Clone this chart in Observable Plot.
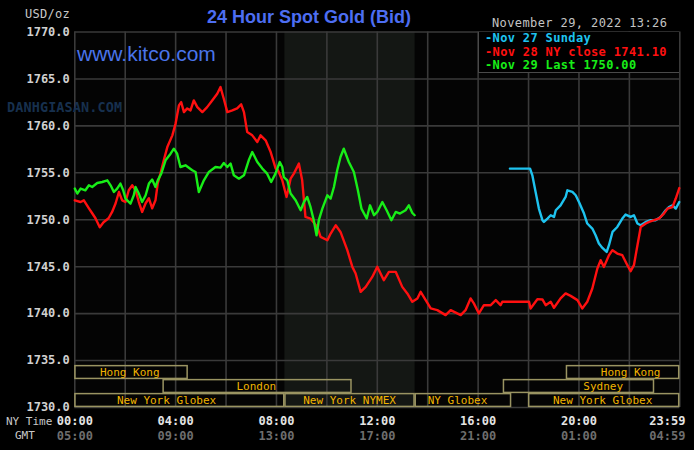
<!DOCTYPE html>
<html><head><meta charset="utf-8">
<script src="https://cdn.jsdelivr.net/npm/d3@7"></script>
<script src="https://cdn.jsdelivr.net/npm/@observablehq/plot@0.6"></script>
<style>
html,body{margin:0;padding:0;background:#000;}
#wrap{position:relative;width:694px;height:450px;overflow:hidden;background:#000;}
.abs{position:absolute;white-space:nowrap;line-height:1;}
.mono{font-family:"DejaVu Sans Mono",monospace;}
</style></head><body><div id="wrap"></div>
<script>
// ---------- data ----------
const titleText = "24 Hour Spot Gold (Bid)";
const siteText = "www.kitco.com";
const stampText = "November 29, 2022 13:26";
const unitText = "USD/oz";

// [NY time in hours, price]
const nov28 = [[0,1752.07],[0.23,1751.89],[0.36,1752.07],[0.56,1751.22],[0.69,1750.69],[0.82,1750.16],[0.99,1749.2],[1.14,1749.73],[1.34,1750.16],[1.48,1750.83],[1.62,1751.76],[1.75,1752.96],[1.88,1752.07],[2.01,1751.89],[2.14,1753.14],[2.28,1753.67],[2.41,1753.14],[2.54,1751.89],[2.67,1750.83],[2.81,1751.76],[2.94,1752.29],[3.07,1751.22],[3.2,1752.07],[3.29,1753.88],[3.4,1754.95],[3.53,1756.33],[3.67,1757.74],[3.87,1758.99],[4.0,1760.27],[4.13,1762.18],[4.22,1762.53],[4.33,1761.47],[4.46,1761.86],[4.59,1761.65],[4.72,1762.71],[4.86,1762.0],[5.06,1761.47],[5.25,1762.0],[5.45,1762.71],[5.65,1763.43],[5.78,1764.13],[5.91,1762.89],[6.05,1761.47],[6.25,1761.65],[6.44,1761.86],[6.6,1762.29],[6.71,1761.47],[6.84,1759.34],[7.04,1758.99],[7.24,1758.28],[7.37,1758.99],[7.57,1758.46],[7.77,1757.21],[7.97,1755.45],[8.06,1755.27],[8.23,1754.2],[8.4,1752.43],[8.49,1753.49],[8.56,1754.38],[8.69,1754.91],[8.89,1755.98],[9.02,1754.2],[9.15,1750.3],[9.35,1750.13],[9.62,1749.23],[9.75,1748.17],[10.02,1747.82],[10.15,1748.53],[10.35,1749.41],[10.54,1748.7],[10.81,1746.76],[11.01,1744.98],[11.14,1744.28],[11.34,1742.32],[11.54,1742.85],[11.8,1743.91],[12.0,1744.98],[12.26,1743.56],[12.46,1744.45],[12.73,1744.45],[12.99,1742.85],[13.19,1742.15],[13.39,1741.26],[13.59,1741.62],[13.72,1742.32],[13.92,1741.44],[14.12,1740.55],[14.38,1740.37],[14.71,1739.84],[14.91,1740.37],[15.17,1740.02],[15.31,1739.84],[15.5,1740.37],[15.7,1741.62],[15.83,1741.09],[16.03,1740.02],[16.23,1740.9],[16.5,1740.9],[16.7,1741.44],[16.89,1740.9],[16.96,1741.26],[18.02,1741.26],[18.08,1740.55],[18.35,1741.54],[18.55,1741.51],[18.68,1740.9],[18.88,1741.26],[19.01,1740.62],[19.27,1741.62],[19.47,1742.15],[19.67,1741.89],[19.94,1741.44],[20.13,1740.55],[20.33,1741.26],[20.53,1742.68],[20.73,1744.81],[20.86,1745.69],[20.99,1744.98],[21.19,1746.22],[21.33,1746.76],[21.52,1746.4],[21.72,1746.22],[21.92,1745.16],[22.05,1744.52],[22.18,1745.16],[22.32,1747.29],[22.45,1749.23],[22.65,1749.6],[22.78,1749.77],[22.98,1749.95],[23.17,1750.13],[23.37,1750.66],[23.51,1751.19],[23.71,1751.36],[23.84,1752.26],[23.98,1753.38]];

const nov29 = [[0,1753.32],[0.1,1752.79],[0.23,1753.32],[0.42,1753.14],[0.56,1753.67],[0.69,1753.49],[0.89,1753.91],[1.09,1754.02],[1.29,1754.2],[1.42,1753.67],[1.55,1752.96],[1.68,1753.32],[1.81,1753.85],[1.92,1753.14],[2.01,1752.26],[2.21,1751.72],[2.34,1752.61],[2.41,1753.49],[2.54,1752.79],[2.67,1751.89],[2.81,1752.61],[2.94,1753.85],[3.07,1754.28],[3.2,1753.49],[3.29,1754.2],[3.43,1754.91],[3.6,1756.33],[3.8,1757.04],[3.93,1757.57],[4.06,1757.04],[4.19,1755.62],[4.39,1755.8],[4.66,1755.27],[4.79,1755.09],[4.92,1752.96],[5.12,1754.2],[5.32,1755.09],[5.58,1755.62],[5.78,1755.55],[5.91,1756.04],[6.05,1755.62],[6.18,1755.98],[6.31,1754.73],[6.51,1754.38],[6.71,1754.73],[6.9,1756.33],[7.04,1757.21],[7.24,1756.15],[7.44,1755.45],[7.63,1754.91],[7.79,1754.02],[7.96,1754.91],[8.13,1756.15],[8.23,1755.62],[8.29,1754.55],[8.43,1754.2],[8.56,1752.79],[8.76,1752.07],[8.96,1751.01],[9.09,1751.89],[9.22,1752.43],[9.35,1751.36],[9.48,1749.95],[9.59,1748.35],[9.68,1749.95],[9.82,1751.19],[10.02,1752.61],[10.15,1752.26],[10.28,1753.49],[10.41,1755.27],[10.54,1756.68],[10.67,1757.57],[10.87,1756.15],[11.07,1755.09],[11.23,1753.14],[11.37,1751.19],[11.58,1750.13],[11.71,1751.54],[11.87,1750.48],[12.0,1750.83],[12.2,1751.89],[12.37,1751.01],[12.56,1749.95],[12.73,1750.83],[12.9,1750.66],[13.12,1751.01],[13.25,1751.54],[13.39,1750.72],[13.48,1750.48]];

const nov27 = [[17.26,1755.45],[18.06,1755.45],[18.15,1754.73],[18.28,1752.96],[18.41,1751.19],[18.55,1749.95],[18.61,1749.77],[18.75,1750.13],[18.88,1750.48],[19.01,1750.3],[19.08,1751.01],[19.27,1751.54],[19.47,1752.43],[19.54,1753.14],[19.74,1752.96],[19.87,1752.61],[20.0,1751.89],[20.2,1750.66],[20.33,1749.6],[20.53,1749.06],[20.66,1748.35],[20.79,1747.47],[20.93,1747.0],[21.1,1746.57],[21.19,1747.29],[21.33,1748.7],[21.52,1749.23],[21.72,1750.13],[21.85,1750.55],[22.05,1750.3],[22.18,1750.48],[22.32,1749.6],[22.45,1749.41],[22.65,1749.77],[22.85,1749.95],[23.04,1749.95],[23.24,1750.3],[23.44,1751.01],[23.57,1751.36],[23.71,1751.54],[23.84,1751.19],[23.98,1751.89]];

const legendLabels = ["Nov 27 Sunday", "Nov 28 NY close 1741.10", "Nov 29 Last 1750.00"];
const legendColors = ["#1ec3ef", "#ff1010", "#18ee18"];

const priceTicks = [1730, 1735, 1740, 1745, 1750, 1755, 1760, 1765, 1770];
const gridHours = [0, 2, 4, 6, 8, 10, 12, 14, 16, 18, 20, 22, 24];
const timeTicks = [0, 4, 8, 12, 16, 20];
const nyLabels = ["00:00", "04:00", "08:00", "12:00", "16:00", "20:00"];
const gmtLabels = ["05:00", "09:00", "13:00", "17:00", "21:00", "01:00"];
const endTick = 24;
const endNyLabel = "23:59";
const endGmtLabel = "04:59";

const nymexWindow = [8.333, 13.5];

// trading sessions: name, row (0 = top), start/end hours, label position (hours)
const sessionNames = ["Hong Kong", "London", "New York Globex", "New York NYMEX", "NY Globex", "Sydney", "Hong Kong", "New York Globex"];
const sessionRows  = [0, 1, 2, 2, 2, 1, 0, 2];
const sessionStart = [0, 3.5, 0, 8.333, 13.5, 17.0, 19.5, 18.0];
const sessionEnd   = [4.5, 11.0, 8.333, 13.5, 17.33, 23.0, 24, 24];
const sessionLabelAt = [2.18, 7.2, 3.64, 10.9, 15.18, 20.96, 22.05, 20.94];

// ---------- build ----------
const sessions = sessionNames.map((name, i) => ({name, row: sessionRows[i], start: sessionStart[i], end: sessionEnd[i], labelAt: sessionLabelAt[i]}));
const rowH = 1.49;
const rowTop = r => 1730 + (3 - r) * rowH;
const rowBot = r => 1730 + (2 - r) * rowH;

const mono = "DejaVu Sans Mono, monospace";
const chart = Plot.plot({
  width: 694, height: 450,
  marginLeft: 74.3, marginRight: 14.7, marginTop: 31.5, marginBottom: 43,
  x: {domain: [0, 24], axis: null},
  y: {domain: [1730, 1770], axis: null},
  style: {background: "#000", fontFamily: mono, overflow: "visible"},
  marks: [
    Plot.frame({fill: "#040404", stroke: "none"}),
    Plot.rect([nymexWindow], {x1: d => d[0], x2: d => d[1], y1: () => 1730, y2: () => 1770, fill: "#141714"}),
    Plot.ruleX(gridHours, {x: d => d, stroke: "#3a3a3a", strokeWidth: 1.6}),
    Plot.ruleY(priceTicks, {y: d => d, stroke: "#3a3a3a", strokeWidth: 1.6}),
    Plot.rect(sessions, {x1: "start", x2: "end", y1: d => rowBot(d.row), y2: d => rowTop(d.row), stroke: "#9a9462", strokeWidth: 1.5, fill: "none", inset: 0.6}),
    Plot.text(sessions, {x: "labelAt", y: d => (rowTop(d.row) + rowBot(d.row)) / 2, text: "name", fill: "#f2b400", fontSize: 11, fontFamily: mono}),
    Plot.line(nov27, {x: d => d[0], y: d => d[1], stroke: legendColors[0], strokeWidth: 2.4}),
    Plot.line(nov28, {x: d => d[0], y: d => d[1], stroke: legendColors[1], strokeWidth: 2.4}),
    Plot.line(nov29, {x: d => d[0], y: d => d[1], stroke: legendColors[2], strokeWidth: 2.4}),
    Plot.text(priceTicks, {y: d => d, text: d => d.toFixed(1), frameAnchor: "left", dx: -5, textAnchor: "end", fill: "#d0d0d0", fontWeight: "bold", fontSize: 12}),
    Plot.text(timeTicks, {x: d => d, text: (d, i) => nyLabels[i], frameAnchor: "bottom", dy: 13.5, lineAnchor: "middle", fill: "#e4e4e4", fontWeight: "bold", fontSize: 12}),
    Plot.text(timeTicks, {x: d => d, text: (d, i) => gmtLabels[i], frameAnchor: "bottom", dy: 28.5, lineAnchor: "middle", fill: "#6e6e6e", fontWeight: "bold", fontSize: 12}),
    Plot.text([endTick], {x: d => d, text: () => endNyLabel, frameAnchor: "bottom", dy: 13.5, dx: -12.5, lineAnchor: "middle", fill: "#e4e4e4", fontWeight: "bold", fontSize: 12}),
    Plot.text([endTick], {x: d => d, text: () => endGmtLabel, frameAnchor: "bottom", dy: 28.5, dx: -12.5, lineAnchor: "middle", fill: "#6e6e6e", fontWeight: "bold", fontSize: 12})
  ]
});
const wrap = document.getElementById("wrap");
wrap.appendChild(chart);

function addText(txt, css, cls) {
  const d = document.createElement("div");
  d.className = "abs " + (cls || "");
  d.textContent = txt;
  Object.assign(d.style, css);
  wrap.appendChild(d);
  return d;
}
// watermark
addText("DANHGIASAN.COM", {left: "7px", top: "101px", fontSize: "13.5px", fontWeight: "bold", color: "#17304e", letterSpacing: "0.1px"}, "mono");
// title & site
addText(titleText, {left: "207px", top: "8px", fontSize: "18px", fontWeight: "bold", fontFamily: "Liberation Sans, Arial, sans-serif", color: "#4d6ef2"});
addText(siteText, {left: "77px", top: "43px", fontSize: "21px", fontFamily: "Liberation Sans, Arial, sans-serif", color: "#4a74ea"});
// stamp
addText(stampText, {left: "492px", top: "17px", fontSize: "12px", color: "#c4c4c4", letterSpacing: "0.4px"}, "mono");
addText(unitText, {left: "25px", top: "8px", fontSize: "12px", color: "#c8c8c8", letterSpacing: "0.3px"}, "mono");
addText("NY Time", {left: "6px", top: "416px", fontSize: "11px", color: "#c8c8c8"}, "mono");
addText("GMT", {left: "15px", top: "430px", fontSize: "11px", color: "#c8c8c8"}, "mono");
// legend box
const lg = document.createElement("div");
lg.className = "abs mono";
Object.assign(lg.style, {left: "478px", top: "32px", width: "200px", height: "40px", background: "#000", borderLeft: "1.5px solid #4a4a4a", borderBottom: "1.5px solid #4a4a4a"});
wrap.appendChild(lg);
legendLabels.forEach((t, i) => {
  const r = document.createElement("div");
  r.className = "abs mono";
  r.textContent = "-" + t;
  Object.assign(r.style, {left: "6px", top: (0 + i * 13.7) + "px", fontSize: "12px", fontWeight: "bold", color: legendColors[i], letterSpacing: "0.35px"});
  lg.appendChild(r);
});
</script></body></html>
